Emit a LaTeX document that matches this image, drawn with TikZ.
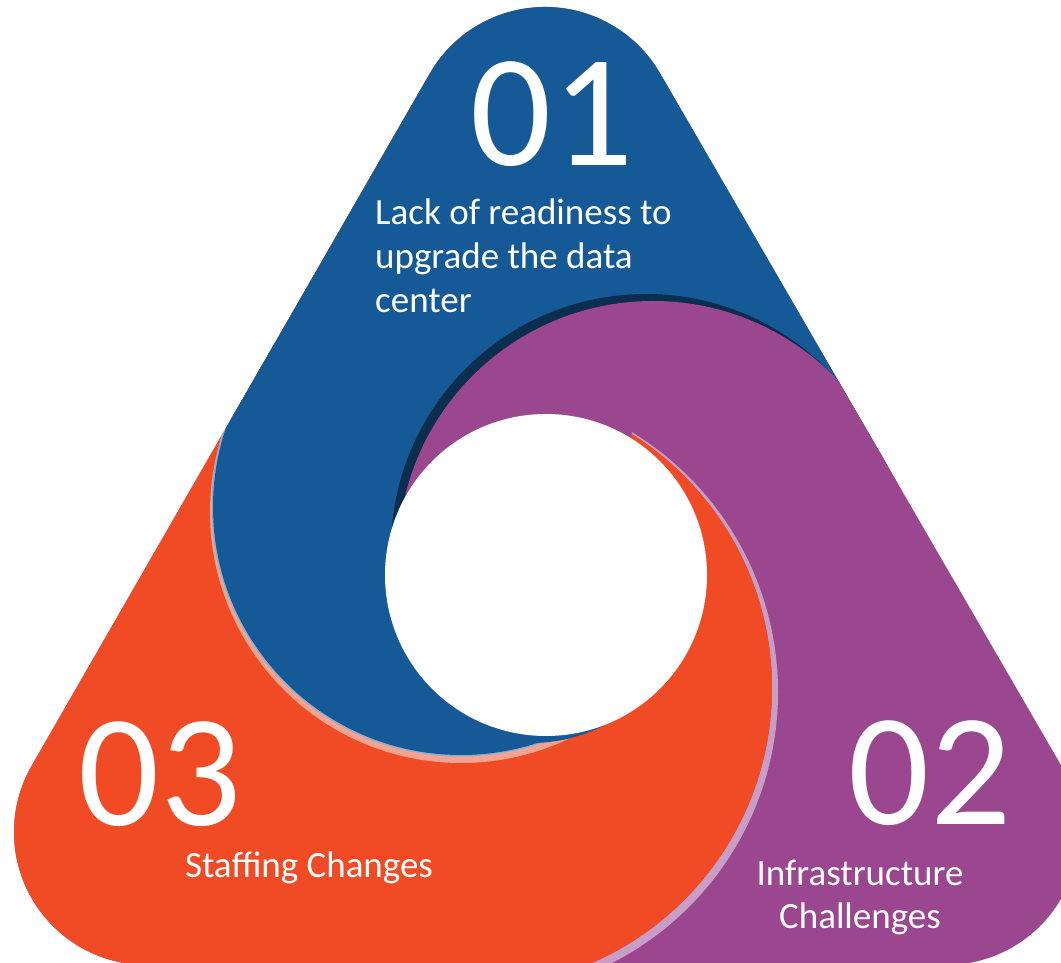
\documentclass[tikz,border=0pt]{standalone}
\usepackage{fontspec}
\setmainfont{Carlito}
\usepackage{tikz}
\usetikzlibrary{calc}
\definecolor{blueP}{RGB}{21,90,150}
\definecolor{purpP}{RGB}{154,71,144}
\definecolor{oranP}{RGB}{240,75,36}
\definecolor{navyS}{RGB}{11,45,78}
\definecolor{pinkH}{RGB}{245,162,142}
\definecolor{lblueH}{RGB}{140,175,210}
\definecolor{lavH}{RGB}{200,158,198}
\tikzset{%
    numtxt/.style={text=white, font=\fontsize{160}{160}\selectfont, inner sep=0pt, text depth=0pt, anchor=base},
    bodytxt/.style={text=white, font=\fontsize{37}{45}\selectfont, inner sep=0pt},
}
\newcommand{\triout}{($(cl)+(150:133)$) -- ($(ct)+(150:133)$) arc[start angle=150, end angle=30, radius=133] -- ($(cr)+(30:133)$) arc[start angle=30, end angle=-90, radius=133] -- ($(cl)+(-90:133)$) arc[start angle=270, end angle=150, radius=133] -- cycle}

\begin{document}
\begin{tikzpicture}[x=1pt,y=1pt]
	\useasboundingbox (0,0) rectangle (1061,962);
	% corner centres of the rounded triangle
	\coordinate (ct) at (545,822);
	\coordinate (cl) at (147,130);
	\coordinate (cr) at (946,130);
	% arc centres
	\coordinate (hc) at (546,387);
	\coordinate (bc) at (461,455);
	\coordinate (pc) at (653,406);
	\coordinate (oc) at (472,274);
	\coordinate (ic) at (531,382);

	\fill[purpP] \triout;
	\begin{scope}
		\clip \triout;
		% orange piece
		\fill[oranP] (oc) circle (300);
		\fill[oranP] (-10,-10) rectangle (472,1000);
		% blue piece
		\fill[pinkH] ($(bc)+(0,-5)$) circle (251);
		\fill[lblueH] (bc) circle (249.5);
		\fill[blueP] (bc) circle (248);
		\fill[blueP] (bc) -- ++(160:600) -- (-20,1000) -- (1100,1000) -- ($(pc)+(43.5:450)$) -- (pc) -- cycle;
		\fill[blueP] (ic) circle (163);
		% purple tail
		\begin{scope}
			\clip (-10,387) rectangle (1100,1000);
			\fill[navyS] ($(pc)+(-7,7)$) circle (255);
			\fill[purpP] (pc) circle (255);
		\end{scope}
		% orange tail
		\begin{scope}
			\clip (642,582) -- (1100,582) -- (1100,-10) -- (560,-10) -- (560,162) -- (600,362) -- cycle;
			\fill[lavH, even odd rule] (474,270) circle (304) (oc) circle (300);
			\fill[oranP, even odd rule] (oc) circle (300) (ic) circle (163);
		\end{scope}
		% hole
		\fill[white] (hc) circle (161);
	\end{scope}

	\node[numtxt] (n01) at (552,796) {01};
	\node[numtxt] (n02) at (930,137) {02};
	\node[numtxt] (n03) at (160,136) {03};

	\node[bodytxt, anchor=base west] (t1a) at (375,737) {Lack of readiness to};
	\node[bodytxt, anchor=base west] (t1b) at (375,693) {upgrade the data};
	\node[bodytxt, anchor=base west] (t1c) at (375,649) {center};
	\node[bodytxt, anchor=base] (t2a) at (860,77) {Infrastructure};
	\node[bodytxt, anchor=base] (t2b) at (860,34) {Challenges};
	\node[bodytxt, anchor=base] (t3a) at (309,84) {Staffing Changes};
\end{tikzpicture}
\end{document}
